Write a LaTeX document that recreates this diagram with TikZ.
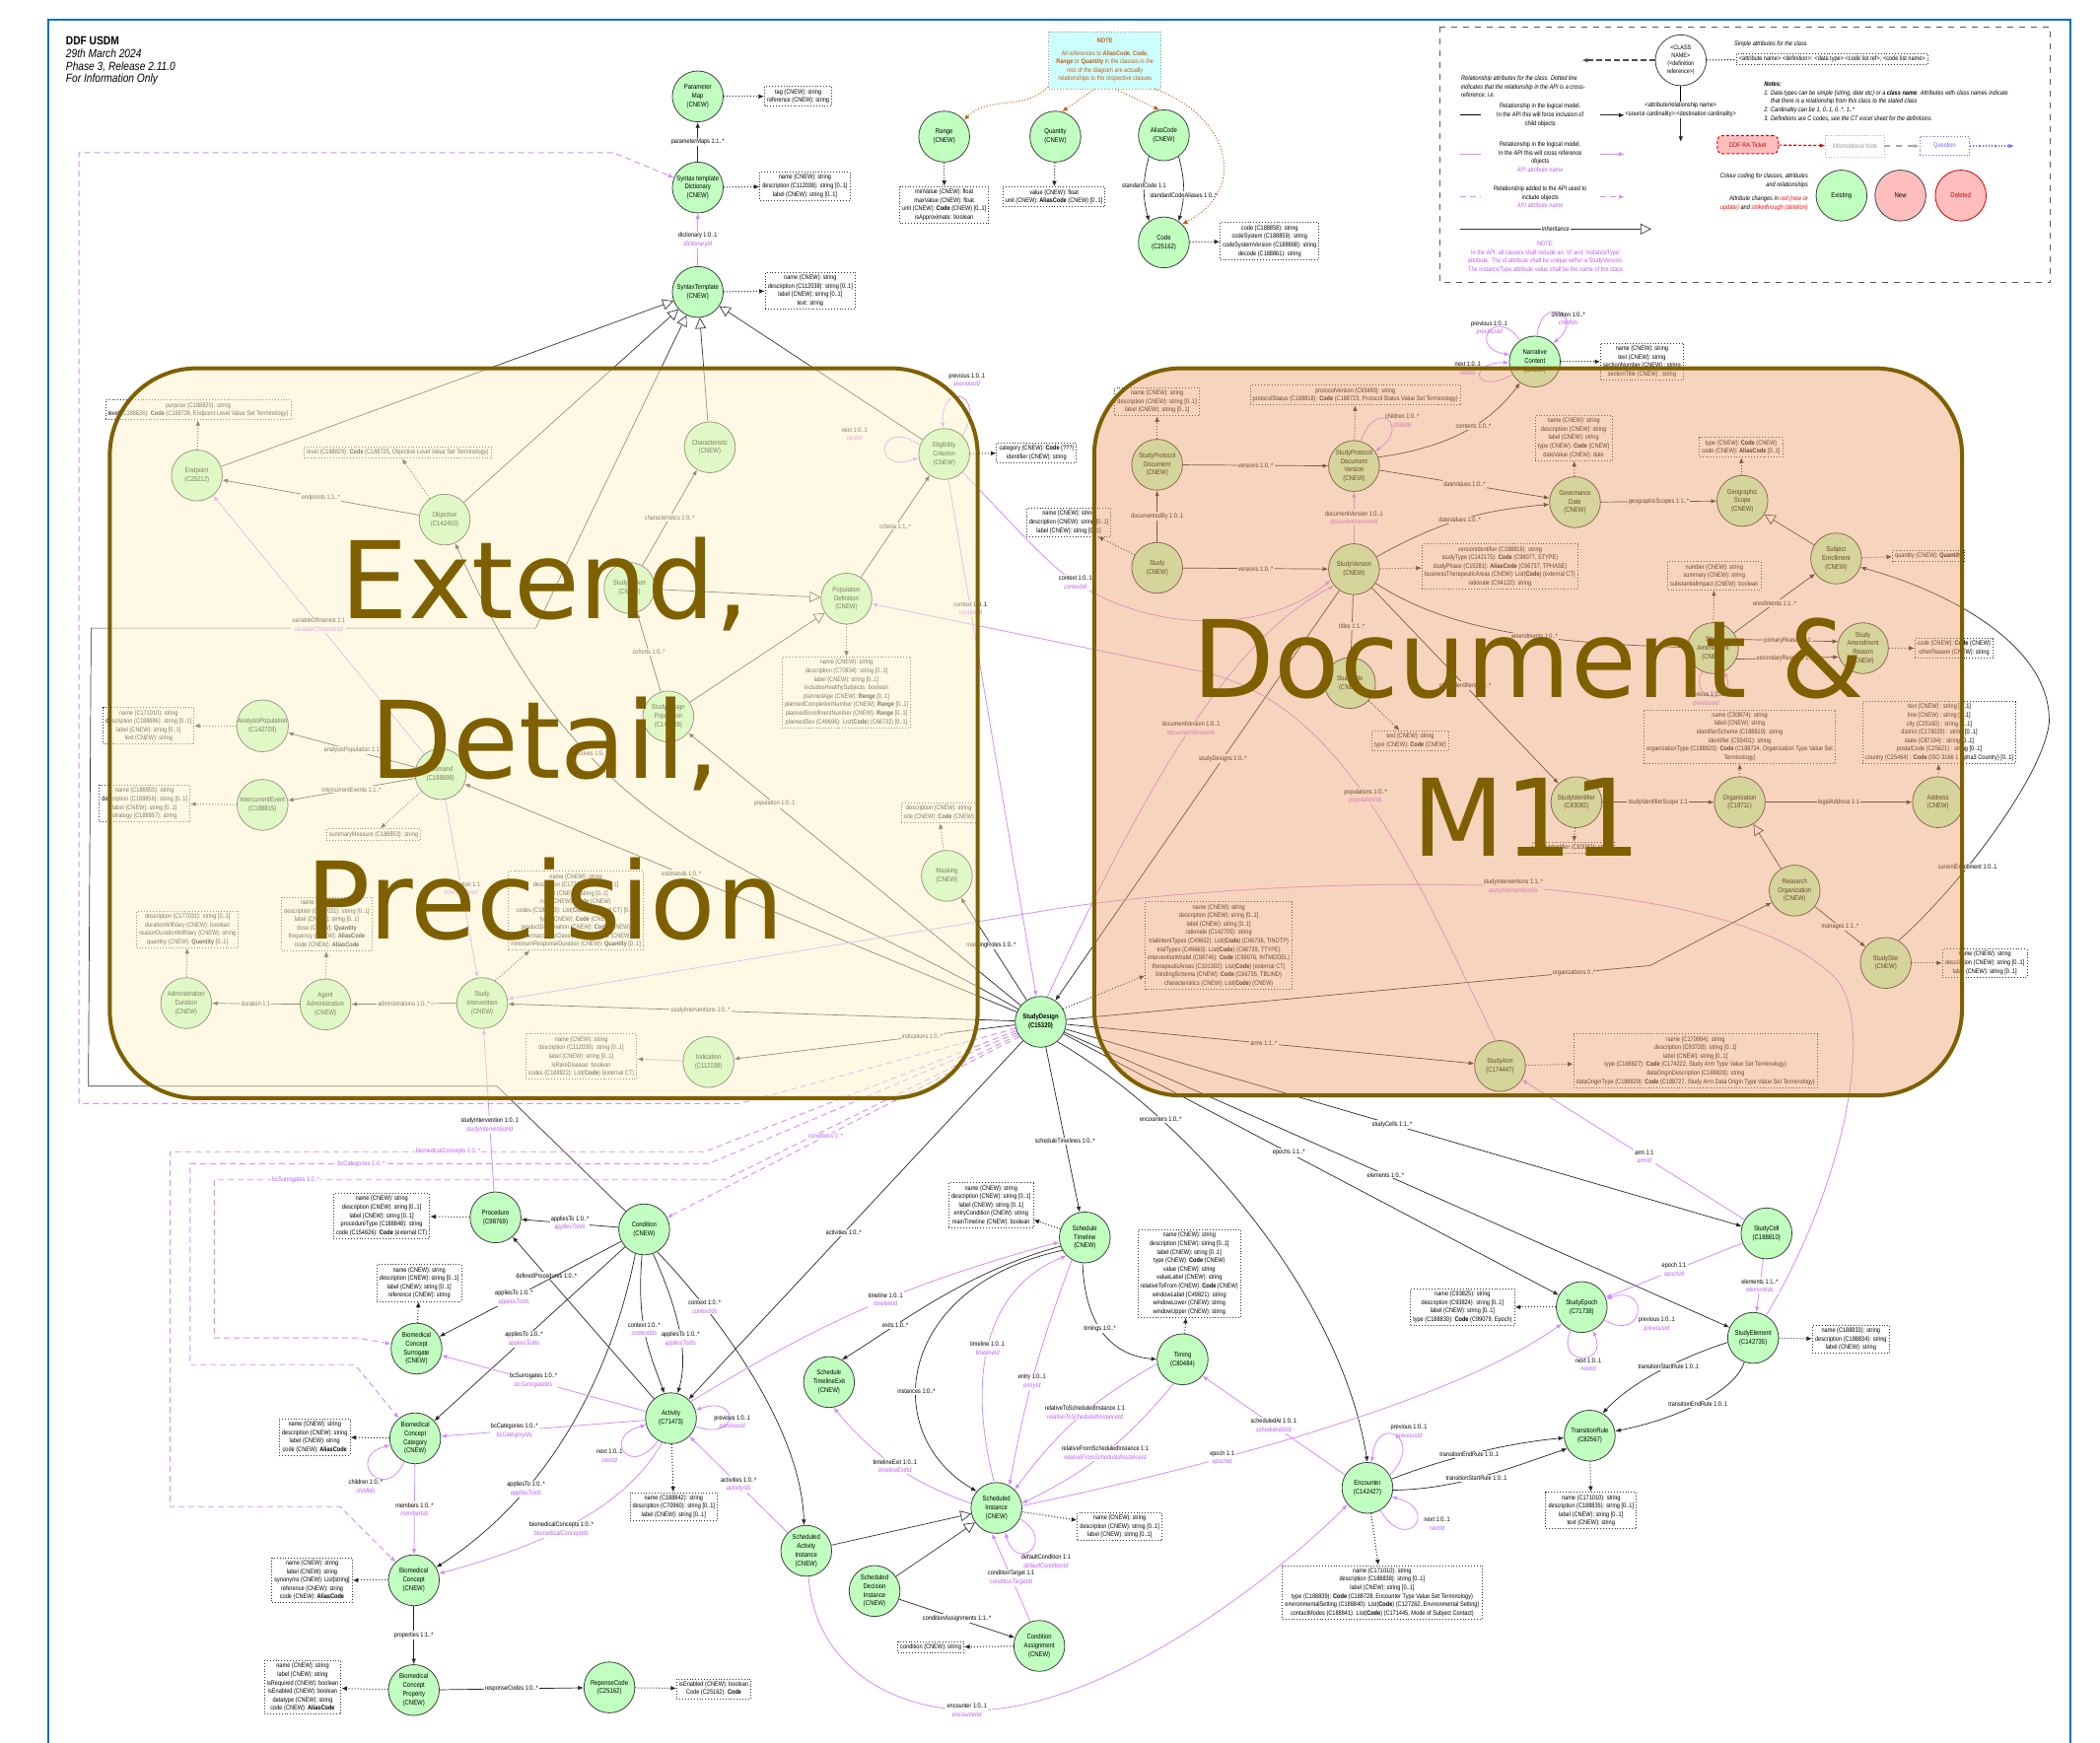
\documentclass[tikz,border=0pt]{standalone}
\usepackage{fontspec}
\setmainfont{Liberation Sans}
\newfontfamily\nrw{Liberation Sans}[FakeStretch=0.85]
\newfontfamily\bigf{DejaVu Sans}
\usetikzlibrary{arrows.meta,shapes.geometric}
\definecolor{ngreen}{RGB}{192,255,192}
\definecolor{apipurple}{RGB}{210,140,255}
\definecolor{apitext}{RGB}{190,90,250}
\definecolor{ovl}{RGB}{127,96,0}
\definecolor{cream}{RGB}{255,242,204}
\definecolor{peach}{RGB}{239,160,109}
\definecolor{noteor}{RGB}{197,90,17}
\definecolor{frameblue}{RGB}{0,112,192}
\definecolor{pinkn}{RGB}{255,190,190}
\definecolor{notecyan}{RGB}{204,255,255}
\newcommand\attrfont{\nrw\fontsize{3.3}{4.3}\selectfont}
\newcommand\nodefont{\nrw\fontsize{3.5}{4.4}\selectfont}
\newcommand\legfont{\nrw\itshape\fontsize{3.3}{4.3}\selectfont}
\newcommand\relab[2]{#1\\{\color{apitext}\itshape #2}}
\tikzset{
 cls/.style={circle, draw=black!75, line width=0.4pt, fill=ngreen, minimum size=25.8pt, inner sep=0pt, align=center, font=\nodefont},
 attrb/.style={draw=black!80, densely dotted, line width=0.45pt, fill=white, align=center, font=\attrfont, inner sep=1.3pt},
 rel/.style={draw=black!85, line width=0.35pt, -{Latex[length=2.8pt,width=2.2pt]}},
 xref/.style={draw=apipurple, line width=0.4pt, -{Latex[length=2.8pt,width=2.2pt]}},
 apil/.style={draw=apipurple, line width=0.45pt, dash pattern=on 3pt off 2pt, -{Latex[length=2.8pt,width=2.2pt]}},
 dotl/.style={draw=black!85, densely dotted, line width=0.5pt, -{Latex[length=2.8pt,width=2.4pt]}},
 notel/.style={draw=noteor, densely dotted, line width=0.5pt, -{Latex[length=2.8pt,width=2.4pt]}},
 inh/.style={draw=black!80, line width=0.35pt, -{Triangle[open,length=5.5pt,width=5.5pt,fill=white]}},
 lbl/.style={font=\attrfont, fill=white, inner sep=0.6pt, align=center},
 lbln/.style={font=\attrfont, inner sep=0.6pt, align=center},
 lblp/.style={font=\attrfont, fill=white, inner sep=0.6pt, align=center, text=apitext},
 legt/.style={font=\legfont, align=center, inner sep=0.5pt},
 bigtxt/.style={font=\bigf\fontsize{54.3}{60}\selectfont, text=ovl, inner sep=0pt},
}
\begin{document}
\begin{tikzpicture}[x=0.6792pt,y=-0.6792pt]
\useasboundingbox (0,0) rectangle (1568,1301);
\fill[white] (0,0) rectangle (1568,1301);
\draw[frameblue, line width=1.1pt] (36,15) rectangle (1546,1320);

% header
\node[anchor=north west, align=left, font=\nrw\fontsize{6}{6.4}\selectfont, inner sep=0pt] (hdr) at (49,27)
 {\textbf{DDF USDM}\\\textit{29th March 2024}\\\textit{Phase 3, Release 2.11.0}\\\textit{For Information Only}};

% ================= NODES =================
% top
\node[cls] (PM) at (521,72) {Parameter\\Map\\(CNEW)};
\node[cls] (STD) at (521,140) {Syntax template\\Dictionary\\(CNEW)};
\node[cls] (ST) at (521,218) {SyntaxTemplate\\(CNEW)};
\node[cls] (Range) at (705,102) {Range\\(CNEW)};
\node[cls] (Qty) at (788,102) {Quantity\\(CNEW)};
\node[cls] (Alias) at (869,101) {AliasCode\\(CNEW)};
\node[cls] (Code) at (869,181) {Code\\(C25162)};
\node[attrb] (PMb) at (596,72) {tag (CNEW): string\\reference (CNEW): string};
\node[attrb] (STDb) at (601,139) {name (CNEW): string\\description (C112038): string [0..1]\\label (CNEW): string [0..1]};
\node[attrb] (STb) at (605,217) {name (CNEW): string\\description (C112038): string [0..1]\\label (CNEW): string [0..1]\\text: string};
\node[attrb] (Rangeb) at (705,153) {minValue (CNEW): float\\maxValue (CNEW): float\\unit (CNEW): \textbf{Code} (CNEW) [0..1]\\isApproximate: boolean};
\node[attrb] (Qtyb) at (787,147) {value (CNEW): float\\unit (CNEW): \textbf{AliasCode} (CNEW) [0..1]};
\node[attrb] (Codeb) at (948,180) {code (C188858): string\\codeSystem (C188859): string\\codeSystemVersion (C188868): string\\decode (C188861): string};
\node[draw=noteor!70, densely dotted, fill=notecyan, align=center, font=\attrfont, text=noteor, minimum width=57pt, minimum height=26pt] (NOTE) at (825,45)
 {\textbf{NOTE}\\[2pt]All references to \textbf{AliasCode}, \textbf{Code},\\\textbf{Range} or \textbf{Quantity} in the classes in the\\rest of the diagram are actually\\relationships to the respective classes};

% left region
\node[cls] (Endpoint) at (147,355) {Endpoint\\(C25212)};
\node[cls] (Objective) at (332,388) {Objective\\(C142450)};
\node[cls] (Char) at (530,334) {Characteristic\\(CNEW)};
\node[cls] (EC) at (705,339) {Eligibility\\Criterion\\(CNEW)};
\node[cls] (Cohort) at (470,439) {StudyCohort\\(CNEW)};
\node[cls] (PD) at (632,447) {Population\\Definition\\(CNEW)};
\node[cls] (SDP) at (499,535) {StudyDesign\\Population\\(C142728)};
\node[cls] (AP) at (196,542) {AnalysisPopulation\\(C142728)};
\node[cls] (Estimand) at (329,578) {Estimand\\(C188898)};
\node[cls] (ICE) at (196,601) {IntercurrentEvent\\(C188815)};
\node[cls] (AdmDur) at (139,749) {Administration\\Duration\\(CNEW)};
\node[cls] (AgAdm) at (243,750) {Agent\\Administration\\(CNEW)};
\node[cls] (SIint) at (360,749) {Study\\Intervention\\(CNEW)};
\node[cls] (Masking) at (707,654) {Masking\\(CNEW)};
\node[cls] (Indication) at (529,793) {Indication\\(C112038)};
\node[attrb] (Endpointb) at (148,306) {purpose (C188825): string\\level (C188826): \textbf{Code} (C188726, Endpoint Level Value Set Terminology)};
\node[attrb] (Objectiveb) at (297,338) {level (C188829): \textbf{Code} (C188725, Objective Level Value Set Terminology)};
\node[attrb] (ECb) at (774,338) {category (CNEW): \textbf{Code} (???)\\identifier (CNEW): string};
\node[attrb] (PDb) at (632,517) {name (CNEW): string\\description (C70834): string [0..1]\\label (CNEW): string [0..1]\\includesHealthySubjects: boolean\\plannedAge (CNEW): \textbf{Range} [0..1]\\plannedCompletionNumber (CNEW): \textbf{Range} [0..1]\\plannedEnrollmentNumber (CNEW): \textbf{Range} [0..1]\\plannedSex (C49696): List(\textbf{Code}) (C66732) [0..1]};
\node[attrb] (APb) at (111,542) {name (C171010): string\\description (C188886): string [0..1]\\label (CNEW): string [0..1]\\text (CNEW): string};
\node[attrb] (ICEb) at (108,600) {name (C188855): string\\description (C188856): string [0..1]\\label (CNEW): string [0..1]\\strategy (C188857): string};
\node[attrb] (SMb) at (279,623) {summaryMeasure (C188853): string};
\node[attrb] (AdmDurb) at (140,694) {description (C177031): string [0..1]\\durationWillVary (CNEW): boolean\\reasonDurationWillVary (CNEW): string\\quantity (CNEW): \textbf{Quantity} [0..1]};
\node[attrb] (AgAdmb) at (244,690) {name (CNEW): string\\description (C177031): string [0..1]\\label (CNEW): string [0..1]\\dose (CNEW): \textbf{Quantity}\\frequency (CNEW): \textbf{AliasCode}\\route (CNEW): \textbf{AliasCode}};
\node[attrb] (SIintb) at (430,680) {name (CNEW): string\\description (C177031): string [0..1]\\label (CNEW): string [0..1]\\role (CNEW): \textbf{Code} (CNEW)\\codes (C188823): List(\textbf{Code}) (external CT) [0..*]\\type (CNEW): \textbf{Code} (CNEW)\\productDesignation (CNEW): \textbf{Code} (CNEW)\\pharmacologicClass (CNEW): \textbf{Code} (CNEW)\\minimumResponseDuration (CNEW): \textbf{Quantity} [0..1]};
\node[attrb] (Maskingb) at (701,607) {description (CNEW): string\\role (CNEW): \textbf{Code} (CNEW)};
\node[attrb] (Indicationb) at (434,789) {name (CNEW): string\\description (C112038): string [0..1]\\label (CNEW): string [0..1]\\isRareDisease: boolean\\codes (C188822): List(\textbf{Code}) (external CT)};

% right region
\node[cls] (NC) at (1146,270) {Narrative\\Content\\(CNEW)};
\node[cls] (SPD) at (864,347) {StudyProtocol\\Document\\(CNEW)};
\node[cls] (SPDV) at (1011,348) {StudyProtocol\\Document\\Version\\(CNEW)};
\node[cls] (Study) at (864,424) {Study\\(CNEW)};
\node[cls] (SV) at (1011,425) {StudyVersion\\(CNEW)};
\node[cls] (GD) at (1176,375) {Governance\\Date\\(CNEW)};
\node[cls] (GS) at (1301,374) {Geographic\\Scope\\(CNEW)};
\node[cls] (SE) at (1371,417) {Subject\\Enrollment\\(CNEW)};
\node[cls] (SA) at (1279,484) {Study\\Amendment\\(CNEW)};
\node[cls] (SAR) at (1391,484) {Study\\Amendment\\Reason\\(CNEW)};
\node[cls] (StudyTitle) at (1008,510) {StudyTitle\\(CNEW)};
\node[cls] (SId) at (1177,599) {StudyIdentifier\\(C83082)};
\node[cls] (Org) at (1299,599) {Organization\\(C19711)};
\node[cls] (Addr) at (1447,599) {Address\\(CNEW)};
\node[cls] (RO) at (1340,665) {Research\\Organization\\(CNEW)};
\node[cls] (Site) at (1408,719) {StudySite\\(CNEW)};
\node[cls] (Arm) at (1120,796) {StudyArm\\(C174447)};
\node[cls, font=\nodefont\bfseries] (SD) at (777,763) {StudyDesign\\(C15320)};
\node[attrb] (NCb) at (1226,270) {name (CNEW): string\\text (CNEW): string\\sectionNumber (CNEW) : string\\sectionTitle (CNEW) : string};
\node[attrb] (SPDb) at (864,300) {name (CNEW): string\\description (CNEW): string [0..1]\\label (CNEW): string [0..1]};
\node[attrb] (SPDVb) at (1012,295) {protocolVersion (C93490): string\\protocolStatus (C188818): \textbf{Code} (C188723, Protocol Status Value Set Terminology)};
\node[attrb] (Studyb) at (798,390) {name (CNEW): string\\description (CNEW): string [0..1]\\label (CNEW): string [0..1]};
\node[attrb] (GDb) at (1175,327) {name (CNEW): string\\description (CNEW): string\\label (CNEW): string\\type (CNEW): \textbf{Code} (CNEW)\\dateValue (CNEW): date};
\node[attrb] (GSb) at (1300,334) {type (CNEW): \textbf{Code} (CNEW)\\code (CNEW): \textbf{AliasCode} [0..1]};
\node[attrb] (SVb) at (1120,423) {versionIdentifier (C188816): string\\studyType (C142175): \textbf{Code} (C99077, STYPE)\\studyPhase (C15281): \textbf{AliasCode} (C66737, TPHASE)\\businessTherapeuticAreas (CNEW): List(\textbf{Code}) (external CT)\\rationale (C94122): string};
\node[attrb] (SEb) at (1440,415) {quantity (CNEW): \textbf{Quantity}};
\node[attrb] (SAb) at (1280,430) {number (CNEW): string\\summary (CNEW): string\\substantialImpact (CNEW): boolean};
\node[attrb] (SARb) at (1459,484) {code (CNEW): \textbf{Code} (CNEW)\\otherReason (CNEW): string};
\node[attrb] (StudyTitleb) at (1053,553) {text (CNEW): string\\type (CNEW): \textbf{Code} (CNEW)};
\node[attrb] (SIdb) at (1175,633) {studyIdentifier (C83082): string};
\node[attrb] (Orgb) at (1299,550) {name (C93874): string\\label (CNEW): string\\identifierScheme (C188819): string\\identifier (C93401): string\\organizationType (C188820): \textbf{Code} (C188724, Organization Type Value Set\\Terminology)};
\node[attrb] (Addrb) at (1448,547) {text (CNEW) : string [0..1]\\line (CNEW) : string [0..1]\\city (C25160) : string [0..1]\\district (C176029) : string [0..1]\\state (C87194) : string [0..1]\\postalCode (C25621) : string [0..1]\\country (C25464) : \textbf{Code} (ISO 3166 1 alpha3 Country) [0..1]};
\node[attrb] (Siteb) at (1482,719) {name (CNEW): string\\description (CNEW): string [0..1]\\label (CNEW): string [0..1]};
\node[attrb] (SDb) at (910,706) {name (CNEW): string\\description (CNEW): string [0..1]\\label (CNEW): string [0..1]\\rationale (C142705): string\\trialIntentTypes (C49652): List(\textbf{Code}) (C66736, TINDTP)\\trialTypes (C49660): List(\textbf{Code}) (C66739, TTYPE)\\interventionModel (C98746): \textbf{Code} (C99076, INTMODEL)\\therapeuticAreas (C101302): List(\textbf{Code}) (external CT)\\blindingSchema (CNEW): \textbf{Code} (C66735, TBLIND)\\characteristics (CNEW): List(\textbf{Code}) (CNEW)};
\node[attrb] (Armb) at (1266,792) {name (C170984): string\\description (C93728): string [0..1]\\label (CNEW): string [0..1]\\type (C188827): \textbf{Code} (C174222, Study Arm Type Value Set Terminology)\\dataOriginDescription (C188828): string\\dataOriginType (C188829): \textbf{Code} (C188727, Study Arm Data Origin Type Value Set Terminology)};

% bottom region
\node[cls] (Procedure) at (370,909) {Procedure\\(C98769)};
\node[cls] (Condition) at (481,918) {Condition\\(CNEW)};
\node[cls] (BCS) at (311,1007) {Biomedical\\Concept\\Surrogate\\(CNEW)};
\node[cls] (BCC) at (310,1074) {Biomedical\\Concept\\Category\\(CNEW)};
\node[cls] (BC) at (309,1180) {Biomedical\\Concept\\(CNEW)};
\node[cls] (BCP) at (309,1262) {Biomedical\\Concept\\Property\\(CNEW)};
\node[cls] (RC) at (455,1260) {ReponseCode\\(C25162)};
\node[cls] (Activity) at (501,1059) {Activity\\(C71473)};
\node[cls] (SAI) at (602,1158) {Scheduled\\Activity\\Instance\\(CNEW)};
\node[cls] (SDI) at (653,1188) {Scheduled\\Decision\\Instance\\(CNEW)};
\node[cls] (CA) at (776,1229) {Condition\\Assignment\\(CNEW)};
\node[cls] (SchI) at (744,1126) {Scheduled\\Instance\\(CNEW)};
\node[cls] (STL) at (810,924) {Schedule\\Timeline\\(CNEW)};
\node[cls] (STE) at (619,1032) {Schedule\\TimelineExit\\(CNEW)};
\node[cls] (Timing) at (883,1015) {Timing\\(C80484)};
\node[cls] (Enc) at (1021,1111) {Encounter\\(C142427)};
\node[cls] (Epoch) at (1181,976) {StudyEpoch\\(C71738)};
\node[cls] (Cell) at (1319,921) {StudyCell\\(C188810)};
\node[cls] (Elem) at (1309,999) {StudyElement\\(C142735)};
\node[cls] (TR) at (1187,1072) {TransitionRule\\(C82567)};
\node[attrb] (Procb) at (285,908) {name (CNEW): string\\description (CNEW): string [0..1]\\label (CNEW): string [0..1]\\procedureType (C188848): string\\code (C154626): \textbf{Code} (external CT)};
\node[attrb] (BCSb) at (313,958) {name (CNEW): string\\description (CNEW): string [0..1]\\label (CNEW): string [0..1]\\reference (CNEW): string};
\node[attrb] (BCCb) at (235,1073) {name (CNEW): string\\description (CNEW): string\\label (CNEW): string\\code (CNEW): \textbf{AliasCode}};
\node[attrb] (BCb) at (233,1180) {name (CNEW): string\\label (CNEW): string\\synonyms (CNEW): List[string]\\reference (CNEW): string\\code (CNEW): \textbf{AliasCode}};
\node[attrb] (BCPb) at (226,1260) {name (CNEW): string\\label (CNEW): string\\isRequired (CNEW): boolean\\isEnabled (CNEW): boolean\\datatype (CNEW): string\\code (CNEW): \textbf{AliasCode}};
\node[attrb] (RCb) at (533,1261) {isEnabled (CNEW): boolean\\Code (C25162): \textbf{Code}};
\node[attrb] (Actb) at (503,1125) {name (C188842): string\\description (C70960): string [0..1]\\label (CNEW): string [0..1]};
\node[attrb] (STLb) at (740,900) {name (CNEW): string\\description (CNEW): string [0..1]\\label (CNEW): string [0..1]\\entryCondition (CNEW): string\\mainTimeline (CNEW): boolean};
\node[attrb] (Timingb) at (888,951) {name (CNEW): string\\description (CNEW): string [0..1]\\label (CNEW): string [0..1]\\type (CNEW): \textbf{Code} (CNEW)\\value (CNEW): string\\valueLabel (CNEW): string\\relativeToFrom (CNEW): \textbf{Code} (CNEW)\\windowLabel (C49821): string\\windowLower (CNEW): string\\windowUpper (CNEW): string};
\node[attrb] (SchIb) at (836,1140) {name (CNEW): string\\description (CNEW): string [0..1]\\label (CNEW): string [0..1]};
\node[attrb] (CAb) at (695,1230) {condition (CNEW): string};
\node[attrb] (Encb) at (1032,1189) {name (C171010): string\\description (C188838): string [0..1]\\label (CNEW): string [0..1]\\type (C188839): \textbf{Code} (C188728, Encounter Type Value Set Terminology)\\environmentalSetting (C188840): List(\textbf{Code}) (C127262, Environmental Setting)\\contactModes (C188841): List(\textbf{Code}) (C171445, Mode of Subject Contact)};
\node[attrb] (Epochb) at (1092,976) {name (C93825): string\\description (C93824): string [0..1]\\label (CNEW): string [0..1]\\type (C188830): \textbf{Code} (C99079, Epoch)};
\node[attrb] (Elemb) at (1382,1000) {name (C188833): string\\description (C188834): string\\label (CNEW): string};
\node[attrb] (TRb) at (1188,1128) {name (C171010): string\\description (C188835): string [0..1]\\label (CNEW): string [0..1]\\text (CNEW): string};

% ================= EDGES =================
% top
\draw[rel] (STD) -- node[lbl]{parameterMaps 1:1..*} (PM);
\draw[xref] (ST) -- node[lbl]{\relab{dictionary 1:0..1}{dictionaryId}} (STD);
\draw[dotl] (PM) -- (PMb);
\draw[dotl] (STD) -- (STDb);
\draw[dotl] (ST) -- (STb);
\draw[dotl] (Range) -- (Rangeb);
\draw[dotl] (Qty) -- (Qtyb);
\draw[dotl] (Code) -- (Codeb);
\draw[rel] (Alias.235) to[out=-105,in=105] node[lbl,pos=.45]{standardCode 1:1} (Code.125);
\draw[rel] (Alias.305) to[out=-75,in=75] node[lbl,pos=.6]{standardCodeAliases 1:0..*} (Code.55);
\draw[notel] (NOTE.205) to[out=-135,in=45] (Range.40);
\draw[notel] (NOTE.250) -- (Qty.75);
\draw[notel] (NOTE.290) -- (Alias.100);
\draw[notel] (NOTE.-30) .. controls (915,85) and (935,140) .. (Code.45);

% inheritance into SyntaxTemplate
\draw[inh] (Endpoint) -- (ST);
\draw[inh] (Objective) -- (ST);
\draw[inh] (Char) -- (ST);
\draw[inh] (EC) -- (ST);
\draw[inh] (Condition) -- (371,811) -- (66,811) -- (68,469) -- (400,469) -- (ST);

% left region
\draw[rel] (Objective) -- node[lbl]{endpoints 1:1..*} (Endpoint);
\draw[dotl] (Endpoint) -- (Endpointb);
\draw[dotl] (Objective) -- (Objectiveb);
\draw[xref] (Estimand) -- node[lbl]{\relab{variableOfInterest 1:1}{variableOfInterestId}} (Endpoint);
\draw[rel] (Estimand) -- node[lbl]{analysisPopulation 1:1} (AP);
\draw[rel] (Estimand) -- node[lbl]{intercurrentEvents 1:1..*} (ICE);
\draw[dotl] (Estimand) -- (SMb);
\draw[dotl] (AP) -- (APb);
\draw[dotl] (ICE) -- (ICEb);
\draw[rel] (Cohort) -- node[lbl]{characteristics 1:0..*} (Char);
\draw[inh] (Cohort) -- (PD);
\draw[inh] (SDP) -- (PD);
\draw[rel] (SDP) -- node[lbl]{cohorts 1:0..*} (Cohort);
\draw[rel] (PD) -- node[lbl]{criteria 1:1..*} (EC);
\draw[dotl] (PD) -- (PDb);
\draw[dotl] (EC) -- (ECb);
\draw[xref] (EC.45) .. controls +(60:26pt) and +(95:24pt) .. (EC.92);
\node[lbln] (ECprev) at (722,284) {\relab{previous 1:0..1}{previousId}};
\draw[xref] (EC.160) .. controls +(145:26pt) and +(200:26pt) .. (EC.188);
\node[lbln] (ECnext) at (638,324) {\relab{next 1:0..1}{nextId}};
\draw[xref] (EC) -- node[lbl,pos=.25]{\relab{context 1:0..1}{contextId}} (SD);
\draw[xref] (EC.-45) .. controls (760,395) and (785,425) .. (808,438) .. controls (870,475) and (950,470) .. (SV.205);
\node[lbl] (ECctx) at (803,435) {\relab{context 1:0..1}{contextId}};
\draw[rel] (SD) -- node[lbl,pos=.607]{estimands 1:0..*} (Estimand);
\draw[rel] (SD) -- node[lbl,pos=.74]{population 1:0..1} (SDP);
\draw[rel] (SD) .. controls (560,640) and (445,640) .. (Objective) node[lbl,pos=.7]{objectives 1:0..*};
\draw[rel] (SD) -- node[lbl,pos=.54]{maskingRoles 1:0..*} (Masking);
\draw[rel] (SD) -- node[lbl,pos=.62]{studyInterventions 1:0..*} (SIint);
\draw[rel] (SD) -- node[lbl,pos=.33]{indications 1:0..*} (Indication);
\draw[dotl] (Masking) -- (Maskingb);
\draw[dotl] (Indication) -- (Indicationb);
\draw[rel] (AgAdm) -- node[lbl]{duration 1:1} (AdmDur);
\draw[rel] (SIint) -- node[lbl]{administrations 1:0..*} (AgAdm);
\draw[dotl] (AdmDur) -- (AdmDurb);
\draw[dotl] (AgAdm) -- (AgAdmb);
\draw[dotl] (SIint.60) -- (SIintb);
\draw[xref] (Estimand) -- node[lbl]{\relab{intervention 1:1}{interventionId}} (SIint);

% right region
\draw[rel] (SPD) -- node[lbl]{versions 1:0..*} (SPDV);
\draw[rel] (Study) -- node[lbl]{documentedBy 1:0..1} (SPD);
\draw[rel] (Study) -- node[lbl]{versions 1:0..*} (SV);
\draw[dotl] (Study.150) -- (Studyb);
\draw[xref] (SV) -- node[lbl]{\relab{documentVersion 1:0..1}{documentVersionId}} (SPDV);
\draw[rel] (SPDV.20) .. controls (1075,335) and (1110,320) .. (NC.235) node[lbl,pos=.6]{contents 1:0..*};
\draw[xref] (SPDV.75) .. controls +(70:24pt) and +(35:22pt) .. (SPDV.35);
\node[lbln] (SPDVch) at (1047,314) {\relab{children 1:0..*}{childIds}};
\draw[dotl] (SPD) -- (SPDb);
\draw[dotl] (SPDV) -- (SPDVb);
\draw[dotl] (NC) -- (NCb);
\draw[xref] (NC.125) .. controls +(125:22pt) and +(170:22pt) .. (NC.165);
\node[lbln] (NCprev) at (1112,245) {\relab{previous 1:0..1}{previousId}};
\draw[xref] (NC.85) .. controls +(85:22pt) and +(40:22pt) .. (NC.45);
\node[lbln] (NCch) at (1171,238) {\relab{children 1:0..*}{childIds}};
\draw[xref] (NC.210) .. controls +(210:22pt) and +(180:22pt) .. (NC.182);
\node[lbln] (NCnext) at (1096,275) {\relab{next 1:0..1}{nextId}};
\draw[rel] (SPDV) -- node[lbl]{dateValues 1:0..*} (GD);
\draw[rel] (SV) to[bend left=12] node[lbl]{dateValues 1:0..*} (GD);
\draw[rel] (GD) -- node[lbl]{geographicScopes 1:1..*} (GS);
\draw[dotl] (GD) -- (GDb);
\draw[dotl] (GS) -- (GSb);
\draw[inh] (SE) -- (GS);
\draw[dotl] (SE) -- (SEb);
\draw[rel] (SA) -- node[lbl]{enrollments 1:1..*} (SE);
\draw[rel] (SA.20) -- node[lbl]{primaryReason 1:1} (SAR.165);
\draw[rel] (SA.-25) -- node[lbl]{secondaryReasons 1:0..*} (SAR.-160);
\draw[dotl] (SA) -- (SAb);
\draw[dotl] (SAR) -- (SARb);
\draw[xref] (SA.245) .. controls +(245:18pt) and +(295:18pt) .. (SA.295);
\node[lbln] (SAprev) at (1274,522) {\relab{previous 1:0..1}{previousId}};
\draw[rel] (SV) .. controls (1080,470) and (1150,480) .. (SA) node[lbl,pos=.6]{amendments 1:0..*};
\draw[dotl] (SV) -- (SVb);
\draw[rel] (SV) -- node[lbl]{titles 1:1..*} (StudyTitle);
\draw[dotl] (StudyTitle) -- (StudyTitleb);
\draw[rel] (SV) -- node[lbl]{studyIdentifiers 1:1..*} (SId);
\draw[dotl] (SId) -- (SIdb);
\draw[rel] (SId) -- node[lbl]{studyIdentifierScope 1:1} (Org);
\draw[rel] (Org) -- node[lbl]{legalAddress 1:1} (Addr);
\draw[dotl] (Org) -- (Orgb);
\draw[dotl] (Addr) -- (Addrb);
\draw[inh] (RO) -- (Org);
\draw[rel] (RO) -- node[lbl]{manages 1:1..*} (Site);
\draw[dotl] (Site) -- (Siteb);
\draw[rel] (Site.60) .. controls (1465,660) and (1525,580) .. (1530,540) node[lbl,pos=.35]{currentEnrollment 1:0..1} .. controls (1532,480) and (1450,440) .. (SE.-20);
\draw[rel] (SV) -- node[lbl,pos=.41]{studyDesigns 1:0..*} (SD);
\draw[rel] (SD) -- (1232,721) node[lbl,pos=.87]{organizations 0..*} -- (RO);
\draw[rel] (SD) -- node[lbl,pos=.484]{arms 1:1..*} (Arm);
\draw[dotl] (Arm) -- (Armb);
\draw[dotl] (SD.30) -- (SDb);
\draw[xref] (SD.75) .. controls (840,620) and (910,480) .. (SV.220) node[lbl,pos=.55]{\relab{documentVersion 1:0..1}{documentVersionId}};
\draw[xref] (Arm.100) .. controls (1050,640) and (1000,520) .. (890,500) node[lbl,pos=.5]{\relab{populations 1:0..*}{populationIds}} -- (PD);
\draw[xref] (Elem.60) .. controls (1380,880) and (1400,760) .. (1370,730) .. controls (1320,680) and (1200,668) .. (1130,662) node[lbl]{\relab{studyInterventions 1:1..*}{studyInterventionIds}} .. controls (1000,656) and (850,668) .. (780,680) -- (SIint);

% bottom region: design-level links
\draw[apil] (SD.195) -- (552,824) -- (59,824) -- (59,114) -- (458,114) -- (STD);
\draw[apil] (SD.200) -- (526,860) -- node[lblp,pos=.48]{biomedicalConcepts 1:0..*} (127,860) -- (127,1125) -- (254,1125) -- (BC);
\draw[apil] (SD.205) -- (529,869) -- node[lblp,pos=.67]{bcCategories 1:0..*} (142,869) -- (142,1019) -- (265,1019) -- (BCC);
\draw[apil] (SD.210) -- (541,881) -- node[lblp,pos=.84]{bcSurrogates 1:0..*} (160,881) -- (160,999) -- (267,999) -- (BCS);
\draw[apil] (SD.215) -- node[lblp,pos=.55]{conditions 0..*} (Condition);
\draw[rel] (SD) -- node[lbl,pos=.536]{activities 1:0..*} (Activity);
\draw[rel] (SD) -- node[lbl,pos=.57]{scheduleTimelines 1:0..*} (STL);
\draw[rel] (SD.-50) .. controls (880,830) and (1000,960) .. (Enc.north) node[lbl,pos=.27]{encounters 1:0..*};
\draw[rel] (SD) -- node[lbl,pos=.455]{epochs 1:1..*} (Epoch);
\draw[rel] (SD) -- node[lbl,pos=.483]{elements 1:0..*} (Elem);
\draw[rel] (SD) -- node[lbl,pos=.483]{studyCells 1:1..*} (Cell);

% procedures, conditions, biomedical concepts
\draw[xref] (Procedure) -- node[lbl,pos=.41]{\relab{studyIntervention 1:0..1}{studyInterventionId}} (SIint);
\draw[dotl] (Procedure) -- (Procb);
\draw[rel] (Condition) -- node[lbl]{\relab{appliesTo 1:0..*}{appliesToIds}} (Procedure);
\draw[rel] (Activity) -- node[lbl,pos=.76]{definedProcedures 1:0..*} (Procedure);
\draw[rel] (Condition) -- node[lbl,pos=.59]{\relab{appliesTo 1:0..*}{appliesToIds}} (BCS);
\draw[rel] (Condition) -- node[lbl,pos=.53]{\relab{appliesTo 1:0..*}{appliesToIds}} (BCC);
\draw[rel] (Condition.-110) .. controls (460,1010) and (420,1110) .. (BC.30) node[lbl,pos=.72]{\relab{appliesTo 1:0..*}{appliesToIds}};
\draw[rel] (Condition.-95) .. controls (475,990) and (485,1010) .. (Activity.105) node[lbl,pos=.45]{\relab{context 1:0..*}{contextIds}};
\draw[rel] (Condition.-70) .. controls (505,975) and (515,1010) .. (Activity.75) node[lbl,pos=.58]{\relab{appliesTo 1:0..*}{appliesToIds}};
\draw[rel] (Condition.-60) .. controls (525,970) and (598,1060) .. (SAI.95) node[lbl,pos=.28]{\relab{context 1:0..*}{contextIds}};
\draw[xref] (Activity) -- node[lbl,pos=.55]{\relab{bcSurrogates 1:0..*}{bcSurrogateIds}} (BCS);
\draw[xref] (Activity) -- node[lbl,pos=.64]{\relab{bcCategories 1:0..*}{bcCategoryIds}} (BCC);
\draw[xref] (Activity.-110) .. controls (470,1120) and (420,1150) .. (BC.15) node[lbl,pos=.6]{\relab{biomedicalConcepts 1:0..*}{biomedicalConceptIds}};
\draw[xref] (BCC) -- node[lbl]{\relab{members 1:0..*}{memberIds}} (BC);
\draw[xref] (BCC.245) .. controls +(245:24pt) and +(195:24pt) .. (BCC.195);
\node[lbln] (BCCch) at (273,1110) {\relab{children 1:0..*}{childIds}};
\draw[dotl] (BCS) -- (BCSb);
\draw[dotl] (BCC) -- (BCCb);
\draw[dotl] (BC) -- (BCb);
\draw[dotl] (BCP) -- (BCPb);
\draw[dotl] (RC) -- (RCb);
\draw[dotl] (Activity) -- (Actb);
\draw[rel] (BC) -- node[lbl]{properties 1:1..*} (BCP);
\draw[rel] (BCP) -- node[lbl]{responseCodes 1:0..*} (RC);
\draw[xref] (Activity.-18) .. controls +(-20:24pt) and +(20:24pt) .. (Activity.18);
\node[lbln, anchor=west] (ActPrev) at (532,1062) {\relab{previous 1:0..1}{previousId}};
\draw[xref] (Activity.240) .. controls +(235:24pt) and +(195:24pt) .. (Activity.195);
\node[lbln, anchor=east] (ActNext) at (466,1087) {\relab{next 1:0..1}{nextId}};

% timelines
\draw[dotl] (STL) -- (STLb);
\draw[rel] (STL.200) .. controls (720,950) and (670,990) .. (STE.60) node[lbl,pos=.7]{exits 1:0..*};
\draw[rel] (STL.210) .. controls (670,960) and (655,1070) .. (SchI.140) node[lbl,pos=.6]{instances 1:0..*};
\draw[rel] (STL.-95) .. controls (810,990) and (830,1012) .. (Timing.180) node[lbl,pos=.45]{timings 1:0..*};
\draw[dotl] (Timing) -- (Timingb);
\draw[xref] (SchI.95) .. controls (720,1020) and (740,960) .. (STL.225) node[lbl,pos=.45]{\relab{timeline 1:0..1}{timelineId}};
\draw[xref] (Activity.40) to[bend left=8] node[lbl,pos=.55]{\relab{timeline 1:0..1}{timelineId}} (STL.190);
\draw[xref] (STL.-120) to[bend right=5] node[lbl,pos=.55]{\relab{entry 1:0..1}{entryId}} (SchI.60);
\draw[xref] (SchI.170) to[bend left=15] node[lbl,pos=.5]{\relab{timelineExit 1:0..1}{timelineExitId}} (STE.-80);
\draw[xref] (Timing.190) to[bend right=12] node[lbl,pos=.45]{\relab{relativeToScheduledInstance 1:1}{relativeToScheduledInstanceId}} (SchI.45);
\draw[xref] (Timing.-110) to[bend left=12] node[lbl,pos=.5]{\relab{relativeFromScheduledInstance 1:1}{relativeFromScheduledInstanceId}} (SchI.10);
\draw[dotl] (SchI) -- (SchIb);
\draw[xref] (Enc.150) -- node[lbl]{\relab{scheduledAt 1:0..1}{scheduledAtId}} (Timing.-40);
\draw[xref] (SchI.5) .. controls (880,1100) and (1080,1050) .. (Epoch.220) node[lbl,pos=.36]{\relab{epoch 1:1}{epochId}};
\draw[xref] (SAI.-85) .. controls (608,1240) and (660,1275) .. (722,1277) node[lbl]{\relab{encounter 1:0..1}{encounterId}} .. controls (820,1280) and (950,1180) .. (Enc.220);
\draw[xref] (SAI) -- node[lbl]{\relab{activities 1:0..*}{activityIds}} (Activity);
\draw[inh] (SAI) -- (SchI);
\draw[inh] (SDI) -- (SchI);
\draw[rel] (SDI) -- node[lbl]{conditionAssignments 1:1..*} (CA);
\draw[dotl] (CA) -- (CAb);
\draw[xref] (CA.110) -- node[lbl]{\relab{conditionTarget 1:1}{conditionTargetId}} (SchI.-100);
\draw[xref] (SchI.-25) .. controls +(-30:22pt) and +(-75:22pt) .. (SchI.-70);
\node[lbln] (SchIdef) at (781,1166) {\relab{defaultCondition 1:1}{defaultConditionId}};

% encounters, epochs, elements
\draw[dotl] (Enc) -- (Encb);
\draw[xref] (Enc.30) .. controls +(45:26pt) and +(85:26pt) .. (Enc.80);
\node[lbln] (EncPrev) at (1052,1069) {\relab{previous 1:0..1}{previousId}};
\draw[xref] (Enc.-60) .. controls +(-60:26pt) and +(-15:26pt) .. (Enc.-20);
\node[lbln] (EncNext) at (1073,1138) {\relab{next 1:0..1}{nextId}};
\draw[rel] (Enc.20) .. controls (1070,1092) and (1120,1078) .. (TR.185) node[lbl,pos=.5]{transitionEndRule 1:0..1};
\draw[rel] (Enc.-5) .. controls (1090,1112) and (1130,1095) .. (TR.210) node[lbl,pos=.45]{transitionStartRule 1:0..1};
\draw[rel] (Elem.190) .. controls (1260,1012) and (1220,1030) .. (TR.60) node[lbl,pos=.45]{transitionStartRule 1:0..1};
\draw[rel] (Elem.250) .. controls (1295,1040) and (1250,1060) .. (TR.10) node[lbl,pos=.5]{transitionEndRule 1:0..1};
\draw[dotl] (TR) -- (TRb);
\draw[dotl] (Epoch) -- (Epochb);
\draw[dotl] (Elem) -- (Elemb);
\draw[xref] (Cell) -- node[lbl]{\relab{epoch 1:1}{epochId}} (Epoch);
\draw[xref] (Cell) -- node[lbl]{\relab{elements 1:1..*}{elementIds}} (Elem);
\draw[xref] (Cell) -- node[lbl,pos=.45]{\relab{arm 1:1}{armId}} (Arm);
\draw[xref] (Epoch.-30) .. controls +(-30:24pt) and +(20:24pt) .. (Epoch.18);
\node[lbln] (EpPrev) at (1237,989) {\relab{previous 1:0..1}{previousId}};
\draw[xref] (Epoch.245) .. controls +(245:20pt) and +(295:20pt) .. (Epoch.295);
\node[lbln] (EpNext) at (1186,1019) {\relab{next 1:0..1}{nextId}};

% ================= LEGEND =================
\draw[gray!70!black, dashed, line width=0.6pt] (1075,20) rectangle (1531,211);
\node[cls, fill=white, font=\nrw\fontsize{3.2}{4}\selectfont] (LCls) at (1255,45) {<CLASS\\NAME>\\(<definition\\reference>)};
\node[legt] (LSimple) at (1322,33) {Simple attributes for the class};
\node[attrb] (LAttr) at (1368,44) {<attribute name> <definition>: <data type> <code list ref>, <code list name>};
\draw[densely dotted, line width=0.5pt] (LCls) -- (LAttr);
\coordinate (LDash) at (1181,45);
\draw[gray!60!black, dash pattern=on 3pt off 1.5pt, line width=1pt, -{Latex[length=3pt]}] (LCls) -- (LDash);
\node[legt, anchor=west, align=left] (LRelAttr) at (1090,65) {Relationship attributes for the class. Dotted line\\indicates that the relationship in the API is a cross-\\reference, i.e.};
\node[font=\attrfont, align=center, inner sep=0.5pt] (LRelName) at (1255,82) {<attribute/relationship name>\\<source cardinality>:<destination cardinality>};
\draw[line width=0.35pt] (LCls) -- (LRelName);
\coordinate (LDown) at (1255,106);
\draw[rel] (LRelName) -- (LDown);
\node[font=\attrfont, align=center] (LL1) at (1150,86) {Relationship in the logical model.\\In the API this will force inclusion of\\child objects};
\coordinate (LL1a) at (1090,86); \coordinate (LL1b) at (1106,86);
\coordinate (LL1c) at (1195,86); \coordinate (LL1d) at (1213,86);
\draw[line width=0.5pt] (LL1a) -- (LL1b);
\draw[rel] (LL1c) -- (LL1d);
\node[font=\attrfont, align=center] (LL2) at (1150,117) {Relationship in the logical model.\\In the API this will cross reference\\objects\\{\color{apitext}\itshape API attribute name}};
\coordinate (LL2a) at (1090,115); \coordinate (LL2b) at (1106,115);
\coordinate (LL2c) at (1195,115); \coordinate (LL2d) at (1213,115);
\draw[apipurple, line width=0.5pt] (LL2a) -- (LL2b);
\draw[xref] (LL2c) -- (LL2d);
\node[font=\attrfont, align=center] (LL3) at (1150,147) {Relationship added to the API used to\\include objects\\{\color{apitext}\itshape API attribute name}};
\coordinate (LL3a) at (1090,147); \coordinate (LL3b) at (1106,147);
\coordinate (LL3c) at (1195,147); \coordinate (LL3d) at (1213,147);
\draw[apipurple, dash pattern=on 3pt off 2pt, line width=0.5pt] (LL3a) -- (LL3b);
\draw[apil] (LL3c) -- (LL3d);
\coordinate (LInhA) at (1090,171); \coordinate (LInhB) at (1233,171);
\draw[inh] (LInhA) -- node[lbl, font=\legfont]{Inheritance} (LInhB);
\node[font=\attrfont, text=apitext, align=center] (LNote) at (1154,192) {NOTE:\\In the API, all classes shall include an `id' and `instanceType'\\attribute. The id attribute shall be unique within a StudyVersion.\\The instanceType attribute value shall be the name of the class};
\node[font=\legfont, align=left, anchor=north west] (LNotes) at (1312,56) {\textbf{Notes:}\\1. Data types can be simple (string, date etc) or a \textbf{class name}. Attributes with class names indicate\\\phantom{1. }that there is a relationship from this class to the stated class\\2. Cardinality can be 1, 0..1, 0..*, 1..*\\3. Definitions are C codes, see the CT excel sheet for the definitions};
\node[draw=red!85!black, dash pattern=on 1.5pt off 1pt, line width=0.5pt, fill=pinkn, rounded corners=2.5pt, font=\attrfont, text=red!80!black, minimum width=31pt, minimum height=8pt] (LTicket) at (1305,108) {DDF-RA Ticket};
\node[draw=gray!60, densely dotted, font=\attrfont, text=gray!80, minimum width=27pt, minimum height=11pt] (LInfo) at (1385,109) {Informational Note};
\node[draw=blue!60, densely dotted, font=\attrfont, text=blue!60, minimum width=25pt, minimum height=6pt] (LQ) at (1452,109) {Question};
\draw[red!80!black, dash pattern=on 1.5pt off 1pt, line width=0.6pt, -{Latex[length=2.8pt]}] (LTicket) -- (LInfo);
\draw[gray!70, dashed, line width=0.6pt, -{Latex[length=2.8pt]}] (LInfo) -- (LQ);
\coordinate (LQend) at (1504,109);
\draw[blue!60, densely dotted, line width=0.6pt, -{Latex[length=2.8pt]}] (LQ) -- (LQend);
\node[legt, anchor=east, align=right] (LCol) at (1351,135) {Colour coding for classes, attributes\\and relationships};
\node[legt, anchor=east, align=right] (LChg) at (1351,152) {Attribute changes in {\color{red}red (new or}\\{\color{red}update)} and {\color{red}strikethrough (deletion)}};
\node[cls] (LEx) at (1375,146) {Existing};
\node[cls, fill=pinkn] (LNew) at (1419,146) {New};
\node[cls, fill=pinkn, draw=red!80!black, text=red!80!black] (LDel) at (1464,146) {Deleted};

% ================= OVERLAYS =================
\draw[ovl, line width=2pt, rounded corners=44pt, fill=cream, fill opacity=0.5] (82,275) rectangle (730,820);
\draw[ovl, line width=2pt, rounded corners=44pt, fill=peach, fill opacity=0.45] (817,275) rectangle (1465,818);
\node[bigtxt, anchor=base] (T1) at (407,462) {Extend,};
\node[bigtxt, anchor=base] (T2) at (407,581) {Detail,};
\node[bigtxt, anchor=base] (T3) at (407,701) {Precision};
\node[bigtxt, anchor=base] (T4) at (1141,521) {Document \&};
\node[bigtxt, anchor=base] (T5) at (1140,639) {M11};
\end{tikzpicture}
\end{document}
